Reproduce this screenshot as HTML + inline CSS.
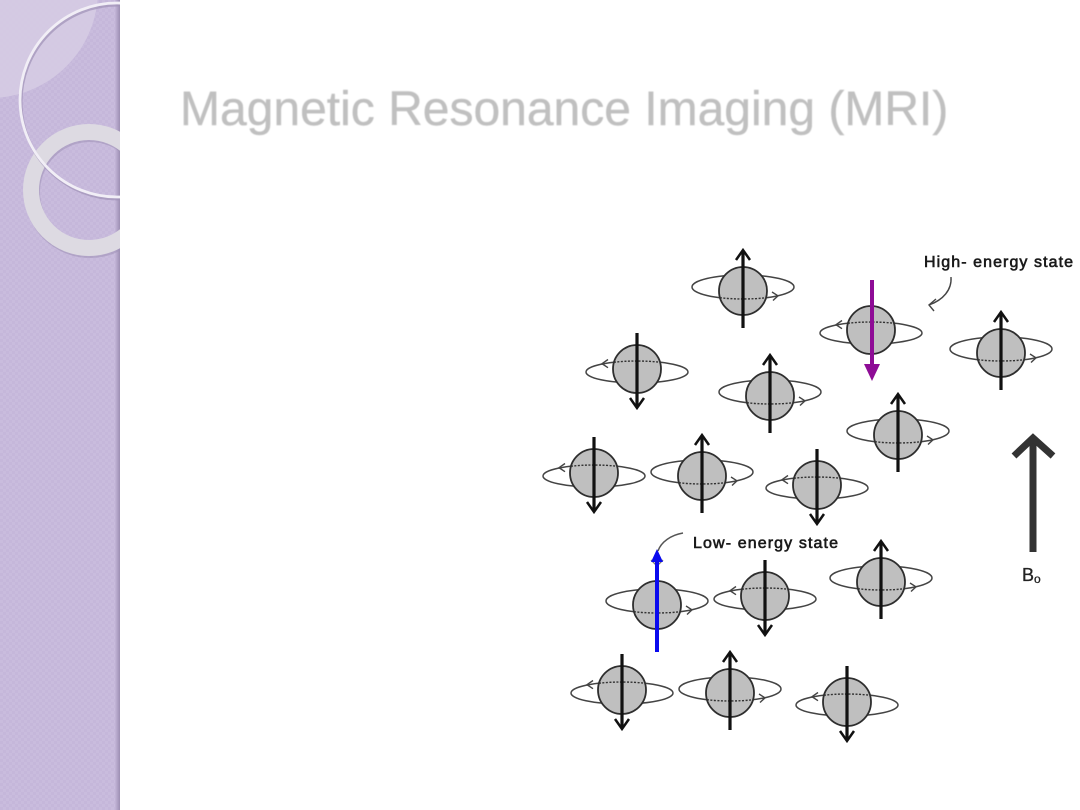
<!DOCTYPE html>
<html>
<head>
<meta charset="utf-8">
<style>
  html,body{margin:0;padding:0;background:#fff;}
  body{width:1080px;height:810px;overflow:hidden;position:relative;}
  svg{position:absolute;left:0;top:0;}
</style>
</head>
<body>
<svg width="1080" height="810" viewBox="0 0 1080 810" xmlns="http://www.w3.org/2000/svg">
  <defs>
    <linearGradient id="edge" x1="0" y1="0" x2="1" y2="0">
      <stop offset="0" stop-color="#c4b6d9"/>
      <stop offset="1" stop-color="#9c8eb2"/>
    </linearGradient>
    <pattern id="chk" width="6" height="6" patternUnits="userSpaceOnUse">
      <rect width="6" height="6" fill="#c5b7da"/>
      <rect width="3" height="3" fill="#c9bcdd"/>
      <rect x="3" y="3" width="3" height="3" fill="#c9bcdd"/>
    </pattern>
    <clipPath id="sb"><rect x="0" y="0" width="120" height="810"/></clipPath>
    <filter id="tb" x="-5%" y="-20%" width="110%" height="140%"><feGaussianBlur stdDeviation="0.6"/></filter>

    <g id="U">
      <ellipse cx="0" cy="-4" rx="51" ry="12" fill="none" stroke="#444" stroke-width="1.5"/>
      <circle cx="0" cy="0" r="24" fill="#bfbfbf" stroke="#2e2e2e" stroke-width="1.8"/>
      <path d="M -23 6.7 A 51 12 0 0 0 23 6.7" fill="none" stroke="#333" stroke-width="1.4" stroke-dasharray="2 1.5"/>
      <path d="M 29 1 L 35 4.8 L 30 9.5" fill="none" stroke="#444" stroke-width="1.4"/>
      <path d="M 0 37 L 0 -40" stroke="#111" stroke-width="3.2"/>
      <path d="M -7 -31 L 0 -41 L 7 -31" fill="none" stroke="#111" stroke-width="2.5"/>
    </g>
    <g id="Un">
      <ellipse cx="0" cy="-4" rx="51" ry="12" fill="none" stroke="#444" stroke-width="1.5"/>
      <circle cx="0" cy="0" r="24" fill="#bfbfbf" stroke="#2e2e2e" stroke-width="1.8"/>
      <path d="M -23 6.7 A 51 12 0 0 0 23 6.7" fill="none" stroke="#333" stroke-width="1.4" stroke-dasharray="2 1.5"/>
      <path d="M 29 1 L 35 4.8 L 30 9.5" fill="none" stroke="#444" stroke-width="1.4"/>
    </g>
    <g id="D">
      <ellipse cx="0" cy="3" rx="51" ry="11" fill="none" stroke="#444" stroke-width="1.5"/>
      <circle cx="0" cy="0" r="24" fill="#bfbfbf" stroke="#2e2e2e" stroke-width="1.8"/>
      <path d="M -23 -6.8 A 51 11 0 0 1 23 -6.8" fill="none" stroke="#333" stroke-width="1.4" stroke-dasharray="2 1.5"/>
      <path d="M -29 -9.5 L -35 -5.3 L -29 -1.3" fill="none" stroke="#444" stroke-width="1.4"/>
      <path d="M 0 -36 L 0 38" stroke="#111" stroke-width="3.2"/>
      <path d="M -7 29 L 0 39 L 7 29" fill="none" stroke="#111" stroke-width="2.5"/>
    </g>
    <g id="Dn">
      <ellipse cx="0" cy="3" rx="51" ry="11" fill="none" stroke="#444" stroke-width="1.5"/>
      <circle cx="0" cy="0" r="24" fill="#bfbfbf" stroke="#2e2e2e" stroke-width="1.8"/>
      <path d="M -23 -6.8 A 51 11 0 0 1 23 -6.8" fill="none" stroke="#333" stroke-width="1.4" stroke-dasharray="2 1.5"/>
      <path d="M -29 -9.5 L -35 -5.3 L -29 -1.3" fill="none" stroke="#444" stroke-width="1.4"/>
    </g>
  </defs>

  <!-- Sidebar -->
  <g clip-path="url(#sb)">
    <rect x="0" y="0" width="120" height="810" fill="url(#chk)"/>
    <rect x="115" y="0" width="5" height="810" fill="url(#edge)"/>
    <circle cx="-10" cy="-10" r="108" fill="#d6cde4" opacity="0.85"/>
    <circle cx="90" cy="192" r="58" fill="none" stroke="#9f92b6" stroke-width="16" opacity="0.55"/>
    <circle cx="89" cy="190" r="58" fill="none" stroke="#dddae2" stroke-width="16"/>
    <circle cx="118" cy="102" r="97" fill="none" stroke="#9f92b6" stroke-width="3" opacity="0.7"/>
    <circle cx="117" cy="100" r="97" fill="none" stroke="#f1eef6" stroke-width="2.8"/>
  </g>

  <!-- Title -->
  <text x="180" y="125" font-family="Liberation Sans, Arial, sans-serif" font-size="48" fill="#c0c0c0" stroke="#c4c4c4" stroke-width="0.4" filter="url(#tb)">Magnetic Resonance Imaging (MRI)</text>

  <!-- Atoms -->
  <use href="#U" transform="translate(743,291)"/>
  <use href="#Dn" transform="translate(871,330)"/>
  <use href="#U" transform="translate(1001,353)"/>
  <use href="#D" transform="translate(637,369)"/>
  <use href="#U" transform="translate(770,396)"/>
  <use href="#U" transform="translate(898,435)"/>
  <use href="#D" transform="translate(594,473)"/>
  <use href="#U" transform="translate(702,476)"/>
  <use href="#D" transform="translate(817,485)"/>
  <use href="#Un" transform="translate(657,605)"/>
  <use href="#D" transform="translate(765,596)"/>
  <use href="#U" transform="translate(881,582)"/>
  <use href="#D" transform="translate(622,690)"/>
  <use href="#U" transform="translate(730,693)"/>
  <use href="#D" transform="translate(847,702)"/>

  <!-- Purple high-energy arrow -->
  <rect x="870" y="280" width="4" height="86" fill="#8e0c96"/>
  <polygon points="864,364 880,364 872,381" fill="#8e0c96"/>

  <!-- Blue low-energy arrow -->
  <path d="M 651 560 L 657 566 L 663 560" fill="none" stroke="#777" stroke-width="1.3"/>
  <rect x="655" y="560" width="4" height="92" fill="#0a0aee"/>
  <polygon points="651,562 663,562 657,549" fill="#0a0aee"/>

  <!-- Label connectors -->
  <path d="M 951 277 C 952 290, 943 300, 929 305" fill="none" stroke="#444" stroke-width="1.4"/>
  <path d="M 936 299 L 929 305 L 934 311" fill="none" stroke="#444" stroke-width="1.4"/>
  <path d="M 683 533 C 671 535, 661 542, 658 551" fill="none" stroke="#555" stroke-width="1.4"/>

  <!-- Labels -->
  <text x="924" y="267" font-family="Liberation Sans, Arial, sans-serif" font-size="16" fill="#1a1a1a" stroke="#1a1a1a" stroke-width="0.6" textLength="149" lengthAdjust="spacing">High- energy state</text>
  <text x="693" y="548" font-family="Liberation Sans, Arial, sans-serif" font-size="16" fill="#1a1a1a" stroke="#1a1a1a" stroke-width="0.6" textLength="145" lengthAdjust="spacing">Low- energy state</text>

  <!-- B0 arrow -->
  <path d="M 1033 440 L 1033 552" stroke="#333" stroke-width="7"/>
  <path d="M 1014 456 L 1033 438 L 1053 456" fill="none" stroke="#333" stroke-width="7" stroke-linejoin="miter"/>
  <text x="1022" y="581" font-family="Liberation Sans, Arial, sans-serif" font-size="18" fill="#222" stroke="#222" stroke-width="0.3">B<tspan font-size="12" dy="2">o</tspan></text>
</svg>
</body>
</html>
